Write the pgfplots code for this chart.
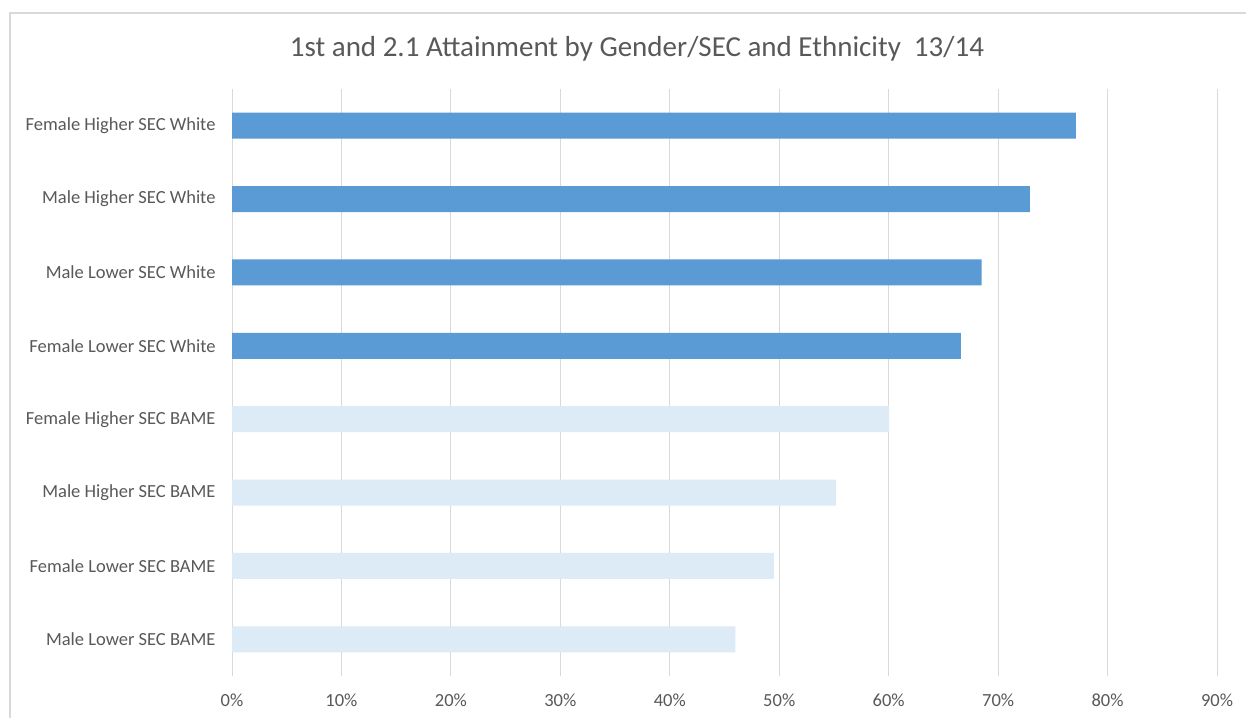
\documentclass[border=0pt]{standalone}
\usepackage{pgfplots}
\pgfplotsset{compat=1.18}
\usepackage{fontspec}
\setmainfont{Carlito}
\definecolor{txt}{HTML}{595959}
\definecolor{gridc}{HTML}{D9D9D9}
\definecolor{dark}{HTML}{5B9BD5}
\definecolor{light}{HTML}{DDEBF7}
\definecolor{framec}{HTML}{D9D9D9}
\begin{document}
\begin{tikzpicture}[x=1bp,y=1bp]
\clip (0,0) rectangle (1246,718);
\fill[white] (0,0) rectangle (1246,718);
\draw[framec, line width=1.5bp] (10,-5) -- (10,705) -- (1260,705);
\node[txt, font=\fontsize{29bp}{34bp}\selectfont] at (637,669) {1st and 2.1 Attainment by Gender/SEC and Ethnicity\ \ 13/14};
\begin{axis}[
  at={(232bp,42bp)}, anchor=south west,
  scale only axis, width=985bp, height=587bp,
  xmin=0, xmax=90, ymin=-0.5, ymax=7.5,
  xtick={0,10,...,90},
  xticklabel={\pgfmathprintnumber{\tick}\%},
  ytick={0,...,7},
  yticklabels={Male Lower SEC BAME,Female Lower SEC BAME,Male Higher SEC BAME,Female Higher SEC BAME,Female Lower SEC White,Male Lower SEC White,Male Higher SEC White,Female Higher SEC White},
  axis line style={draw=none},
  major tick length=0pt,
  xmajorgrids=true, ymajorgrids=false,
  major grid style={draw=gridc, line width=1bp},
  tick label style={txt, font=\fontsize{18.5bp}{22bp}\selectfont},
  /pgf/number format/assume math mode=true,
  xticklabel style={yshift=-14bp},
  yticklabel style={xshift=-13bp},
  xbar stacked, bar width=26bp,
]
\addplot[fill=dark, draw=none] coordinates {(0,0) (0,1) (0,2) (0,3) (66.6,4) (68.5,5) (72.9,6) (77.1,7)};
\addplot[fill=light, draw=none] coordinates {(46.0,0) (49.5,1) (55.2,2) (60.05,3) (0,4) (0,5) (0,6) (0,7)};
\end{axis}
\end{tikzpicture}
\end{document}
